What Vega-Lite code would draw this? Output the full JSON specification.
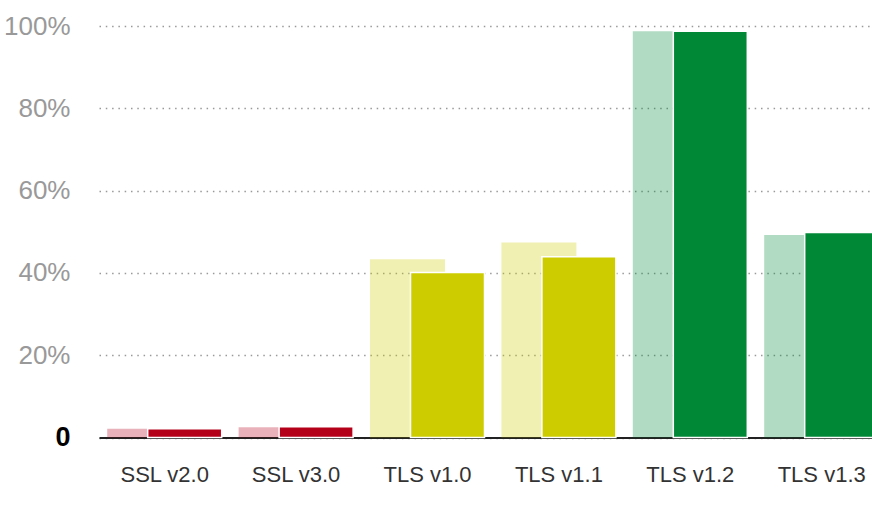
{
  "$schema": "https://vega.github.io/schema/vega-lite/v6.json",
  "width": 772,
  "height": 411.5,
  "autosize": "none",
  "padding": {"left": 100, "top": 26, "right": 0, "bottom": 81.5},
  "background": "white",
  "data": {
    "values": [
      {"protocol": "SSL v2.0", "period": "previous", "share": 2.1},
      {"protocol": "SSL v2.0", "period": "current", "share": 2.1},
      {"protocol": "SSL v3.0", "period": "previous", "share": 2.5},
      {"protocol": "SSL v3.0", "period": "current", "share": 2.6},
      {"protocol": "TLS v1.0", "period": "previous", "share": 43.3},
      {"protocol": "TLS v1.0", "period": "current", "share": 40.1},
      {"protocol": "TLS v1.1", "period": "previous", "share": 47.4},
      {"protocol": "TLS v1.1", "period": "current", "share": 43.9},
      {"protocol": "TLS v1.2", "period": "previous", "share": 98.7},
      {"protocol": "TLS v1.2", "period": "current", "share": 98.7},
      {"protocol": "TLS v1.3", "period": "previous", "share": 49.2},
      {"protocol": "TLS v1.3", "period": "current", "share": 49.8}
    ]
  },
  "encoding": {
    "x": {
      "field": "protocol",
      "type": "nominal",
      "sort": ["SSL v2.0", "SSL v3.0", "TLS v1.0", "TLS v1.1", "TLS v1.2", "TLS v1.3"],
      "scale": {"range": [-1, 787.4], "paddingInner": 0, "paddingOuter": 0},
      "axis": {
        "title": null,
        "ticks": false,
        "labelAngle": 0,
        "labelFont": "Liberation Sans",
        "labelFontSize": 22,
        "labelColor": "#333333",
        "labelPadding": 27,
        "domainColor": "#222222",
        "domainWidth": 2
      }
    },
    "y": {
      "field": "share",
      "type": "quantitative",
      "scale": {"domain": [0, 100]},
      "axis": {
        "title": null,
        "values": [0, 20, 40, 60, 80, 100],
        "ticks": false,
        "domain": false,
        "labelExpr": "datum.value == 0 ? '0' : datum.value + '%'",
        "labelFont": "Liberation Sans",
        "labelFontSize": {"condition": {"test": "datum.value == 0", "value": 27}, "value": 26},
        "labelColor": {"condition": {"test": "datum.value == 0", "value": "#000000"}, "value": "#999999"},
        "labelFontWeight": {"condition": {"test": "datum.value == 0", "value": "bold"}, "value": "normal"},
        "labelPadding": 30,
        "gridColor": "#999999",
        "gridDash": [1.5, 4.8],
        "gridWidth": 1.5
      }
    },
    "color": {
      "field": "protocol",
      "type": "nominal",
      "scale": {
        "domain": ["SSL v2.0", "SSL v3.0", "TLS v1.0", "TLS v1.1", "TLS v1.2", "TLS v1.3"],
        "range": ["#b5001a", "#b5001a", "#cccc00", "#cccc00", "#008837", "#008837"]
      },
      "legend": null
    }
  },
  "layer": [
    {
      "transform": [{"filter": "datum.period == 'previous'"}],
      "mark": {"type": "bar", "width": 75, "xOffset": -20, "opacity": 0.3}
    },
    {
      "transform": [{"filter": "datum.period == 'current'"}],
      "mark": {"type": "bar", "width": 74, "xOffset": 20, "stroke": "white", "strokeWidth": 1.5}
    }
  ],
  "config": {
    "view": {"stroke": null}
  }
}
